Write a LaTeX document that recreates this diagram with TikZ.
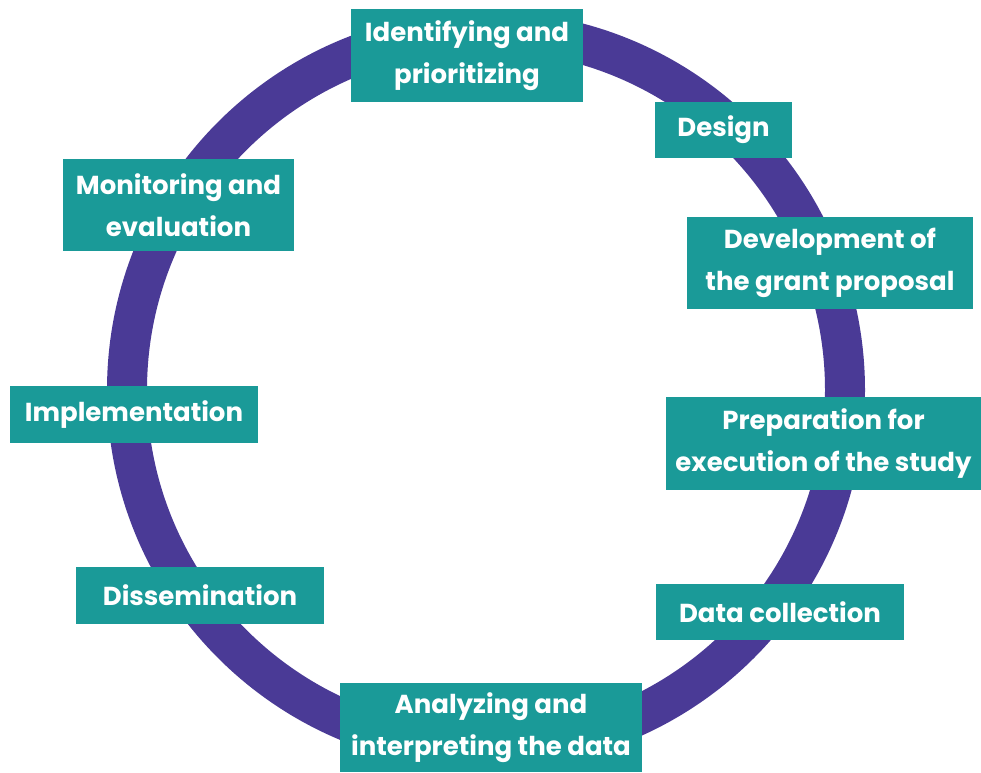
\documentclass[tikz,border=0pt]{standalone}
\usepackage{fontspec}
\setmainfont{Poppins}
\usepackage{tikz}
\definecolor{ringpurple}{HTML}{4A3A96}
\definecolor{boxteal}{HTML}{1A9A98}
\tikzset{
  stage/.style={fill=boxteal, text=white, font=\bfseries\fontsize{19.5}{31.5}\selectfont,
    align=center, inner sep=0pt},
}

\begin{document}
\begin{tikzpicture}[x=0.75pt, y=-0.75pt]
            \useasboundingbox (0,0) rectangle (981,772);
            \draw[ringpurple, line width=30pt] (486,390) circle (269.25pt);

            \node[stage, minimum width=174pt, minimum height=70pt] (ident) at (467,55.5) {Identifying and\\prioritizing};
            \node[stage, minimum width=103pt, minimum height=42pt] (design) at (723.5,130) {Design};
            \node[stage, minimum width=214pt, minimum height=69pt] (grant) at (830,263) {Development of\\the grant proposal};
            \node[stage, minimum width=236pt, minimum height=70pt] (prep) at (823.5,443.5) {Preparation for\\execution of the study};
            \node[stage, minimum width=186pt, minimum height=42pt] (collect) at (780,612) {Data collection};
            \node[stage, minimum width=227pt, minimum height=67pt] (analyze) at (491,727.5) {Analyzing and\\interpreting the data};
            \node[stage, minimum width=186pt, minimum height=43pt] (dissem) at (200,595.5) {Dissemination};
            \node[stage, minimum width=186pt, minimum height=43pt] (implem) at (134,414.5) {Implementation};
            \node[stage, minimum width=173pt, minimum height=69pt] (monitor) at (178.5,205) {Monitoring and\\evaluation};
        \end{tikzpicture}
\end{document}
